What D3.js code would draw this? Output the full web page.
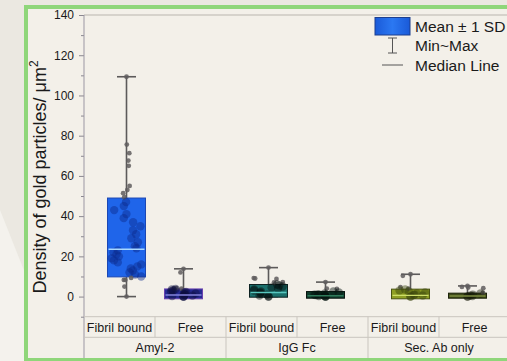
<!DOCTYPE html>
<html>
<head>
<meta charset="utf-8">
<script src="https://cdn.jsdelivr.net/npm/d3@7"></script>
<style>
  html, body { margin: 0; padding: 0; background: #ece9e2; }
  svg { display: block; }
  text { font-family: "Liberation Sans", Arial, sans-serif; fill: #1a1a1a; }
</style>
</head>
<body>
<svg id="chart" width="507" height="361"></svg>
<script>
// ---- data ----
const groups = ["Amyl-2", "IgG Fc", "Sec. Ab only"];
const conditions = ["Fibril bound", "Free"];
// one entry per (group, condition), in reading order
const means   = [29.4, 1.35, 2.85, 0.85, 1.3, 0.45];
const sds     = [19.6, 2.45, 3.15, 1.65, 2.4, 1.25];
const medians = [23.5, 0.8, 2.0, 0.4, 0.6, 0.3];
const mins    = [0, 0, 0, 0, 0, 0];
const maxs    = [109.3, 13.8, 14.4, 7.2, 11.1, 5.3];
const points = [
  [109.3, 75.6, 71.3, 67.6, 65, 55, 53, 51.4, 49.4, 47, 45, 43, 41, 39, 37, 35, 33, 31, 29, 27,
   25, 24, 23, 22, 21, 20, 19, 18, 17, 16, 15, 14, 13, 12, 11, 10, 9.3, 8.3, 8.3, 5, 0],
  [13.8, 12, 4.2, 4, 3.9, 3.8, 3.5, 3, 2.5, 2.3, 2, 1.5, 1.2, 1, 0.8, 0.5, 0.3, 0, 0, 0],
  [14.4, 9.2, 9, 8.8, 7.2, 7, 6, 5.5, 5, 4.5, 4, 3.5, 3, 2.5, 2, 1.5, 1, 0.5, 0, 0],
  [7.2, 4, 3.8, 2.5, 2, 1.5, 1.2, 1, 0.8, 0.5, 0.3, 0, 0, 0],
  [11.1, 10.3, 4.7, 4, 3.5, 3, 2.5, 2, 1.5, 1, 0.8, 0.5, 0, 0],
  [5.3, 4.8, 4.5, 4.2, 2, 1.5, 1, 0.5, 0.3, 0, 0]
];
const yTicks = [0, 20, 40, 60, 80, 100, 120, 140];
const yMinor = [-10, 10, 30, 50, 70, 90, 110, 130];

// palette per box: fill, darker mottling, median tint, outline
const palette = [
  { fill: "#1f65ea", dark: "#0a2a8c", med: "#a8d8ff", edge: "#1b47b4" },
  { fill: "#262a92", dark: "#0e0f40", med: "#8484dc", edge: "#6a42b0" },
  { fill: "#1b706c", dark: "#050f10", med: "#58c8c0", edge: "#0d2222" },
  { fill: "#0f3d2d", dark: "#051410", med: "#2f7a5a", edge: "#08140f" },
  { fill: "#8fa024", dark: "#3a440e", med: "#cfe06a", edge: "#4a5414" },
  { fill: "#3e4b18", dark: "#161b08", med: "#7d8c40", edge: "#1c220b" }
];

const svg = d3.select("#chart");
const W = 507, H = 361;

// ---- backdrop ----
svg.append("rect").attr("width", W).attr("height", H).attr("fill", "#ebe8e1");
svg.append("path")
  .attr("d", "M0,210 L60,361 L0,361 Z")
  .attr("fill", "#f4f2ed");
svg.append("rect")
  .attr("x", 26).attr("y", 7).attr("width", W + 20).attr("height", 353)
  .attr("fill", "#f3f0e9")
  .attr("stroke", "#8fd67a").attr("stroke-width", 4);

// ---- scales ----
const plotL = 84, plotR = 510, plotT = 15, axisB = 316.7;
const y = d3.scaleLinear().domain([-10, 140]).range([axisB, plotT]);
const xGroup = d3.scaleBand().domain(groups).range([plotL, plotR]);
const xCond = d3.scalePoint().domain(conditions).range([-28.5, 28.5]);
const boxW = 38;

const rows = [];
groups.forEach((g, gi) => conditions.forEach((c, ci) => {
  const k = gi * 2 + ci;
  rows.push({ g, c, k, cx: xGroup(g) + xGroup.bandwidth() / 2 + xCond(c) });
}));

// ---- frame lines ----
svg.append("line").attr("x1", plotL).attr("x2", plotR).attr("y1", plotT).attr("y2", plotT)
  .attr("stroke", "#b9b5ae").attr("stroke-width", 1);

// ---- y axis ----
const yAxis = svg.append("g").attr("transform", `translate(${plotL},0)`)
  .call(d3.axisLeft(y).tickValues(yTicks).tickSize(5).tickPadding(5).tickFormat(d3.format("d")));
yAxis.select(".domain").remove();
yAxis.selectAll(".tick line").attr("stroke", "#8a8790");
yAxis.selectAll(".tick text").attr("font-size", 12).attr("fill", "#1a1a1a")
  .style("font-family", "'Liberation Sans', Arial, sans-serif");
svg.append("g").attr("transform", `translate(${plotL},0)`)
  .call(d3.axisLeft(y).tickValues(yMinor).tickSize(3).tickFormat(""))
  .call(g => g.select(".domain").remove())
  .selectAll(".tick line").attr("stroke", "#8a8790");
svg.append("line").attr("x1", plotL).attr("x2", plotL).attr("y1", plotT).attr("y2", 358)
  .attr("stroke", "#9b97a3").attr("stroke-width", 1);

svg.append("text")
  .attr("transform", `translate(46,177) rotate(-90)`)
  .attr("text-anchor", "middle")
  .attr("font-size", 18)
  .text("Density of gold particles/ μm")
  .append("tspan").attr("dy", -8).attr("font-size", 12).text("2");

// ---- category table ----
const colW = xGroup.bandwidth() / 2;
const table = svg.append("g");
[axisB, 337.3].forEach(yy => table.append("line")
  .attr("x1", plotL).attr("x2", plotR).attr("y1", yy).attr("y2", yy)
  .attr("stroke", "#c9c5be"));
rows.forEach(r => {
  const left = xGroup(r.g) + (r.c === "Free" ? colW : 0);
  table.append("line").attr("x1", left + colW).attr("x2", left + colW)
    .attr("y1", axisB).attr("y2", 337.3).attr("stroke", "#c9c5be");
  table.append("text").attr("x", left + colW / 2).attr("y", 331.5)
    .attr("text-anchor", "middle").attr("font-size", 12.5).text(r.c);
});
groups.forEach(g => {
  table.append("line").attr("x1", xGroup(g) + xGroup.bandwidth()).attr("x2", xGroup(g) + xGroup.bandwidth())
    .attr("y1", 337.3).attr("y2", 358).attr("stroke", "#c9c5be");
  table.append("text").attr("x", xGroup(g) + xGroup.bandwidth() / 2).attr("y", 352)
    .attr("text-anchor", "middle").attr("font-size", 12.5).text(g);
});

// ---- boxes ----
const jitter = i => Math.sin((i + 1) * 12.9898) * 43758.5453 % 1;
const marks = svg.append("g");
rows.forEach(r => {
  const k = r.k, p = palette[k], cx = r.cx;
  const lo = means[k] - sds[k], hi = means[k] + sds[k];
  const g = marks.append("g");
  // min~max whisker
  g.append("line").attr("x1", cx).attr("x2", cx).attr("y1", y(mins[k])).attr("y2", y(maxs[k]))
    .attr("stroke", "#5c5a5a").attr("stroke-width", 1.6);
  [mins[k], maxs[k]].forEach(v => g.append("line")
    .attr("x1", cx - 9.5).attr("x2", cx + 9.5).attr("y1", y(v)).attr("y2", y(v))
    .attr("stroke", "#5c5a5a").attr("stroke-width", 1.6));
  // mean ± 1 SD
  g.append("rect").attr("x", cx - boxW / 2).attr("y", y(hi))
    .attr("width", boxW).attr("height", y(lo) - y(hi))
    .attr("fill", p.fill).attr("stroke", p.edge).attr("stroke-width", 1);
  // observations: inside the SD band they shade the box, outside they show as dots
  const spreadOut = (y(lo) - y(hi)) > 40 ? 5 : boxW / 2 - 3;
  points[k].forEach((v, i) => {
    const inside = v >= lo && v <= hi;
    const extreme = v === maxs[k] || v === mins[k];
    const dx = extreme ? 0 : jitter(i + k * 50) * (inside ? boxW / 2 - 4 : spreadOut);
    g.append("circle").attr("cx", cx + dx).attr("cy", y(v))
      .attr("r", inside ? 4.2 : 2.4)
      .attr("fill", inside ? p.dark : "#5f5d5e")
      .attr("fill-opacity", inside ? 0.45 : 0.85);
  });
  // median
  g.append("line").attr("x1", cx - boxW / 2 + 1).attr("x2", cx + boxW / 2 - 1)
    .attr("y1", y(medians[k])).attr("y2", y(medians[k]))
    .attr("stroke", p.med).attr("stroke-width", 1.4);
});

// ---- legend ----
const lg = svg.append("g");
const grad = svg.append("defs").append("linearGradient").attr("id", "lgFill")
  .attr("x1", 0).attr("x2", 1);
grad.append("stop").attr("offset", 0).attr("stop-color", "#1a5ad8");
grad.append("stop").attr("offset", 0.5).attr("stop-color", "#2b78f2");
grad.append("stop").attr("offset", 1).attr("stop-color", "#1a5ad8");
lg.append("rect").attr("x", 375).attr("y", 17.5).attr("width", 35).attr("height", 17.5)
  .attr("fill", "url(#lgFill)").attr("stroke", "#1d3f8f");
lg.append("line").attr("x1", 392.5).attr("x2", 392.5).attr("y1", 38).attr("y2", 53).attr("stroke", "#555");
[38, 53].forEach(v => lg.append("line").attr("x1", 388).attr("x2", 397).attr("y1", v).attr("y2", v).attr("stroke", "#555"));
lg.append("line").attr("x1", 382).attr("x2", 403).attr("y1", 65).attr("y2", 65).attr("stroke", "#555");
[["Mean ± 1 SD", 31.5], ["Min~Max", 51], ["Median Line", 70.5]].forEach(([t, yy]) =>
  lg.append("text").attr("x", 415).attr("y", yy).attr("font-size", 15.5).text(t));
</script>
</body>
</html>
